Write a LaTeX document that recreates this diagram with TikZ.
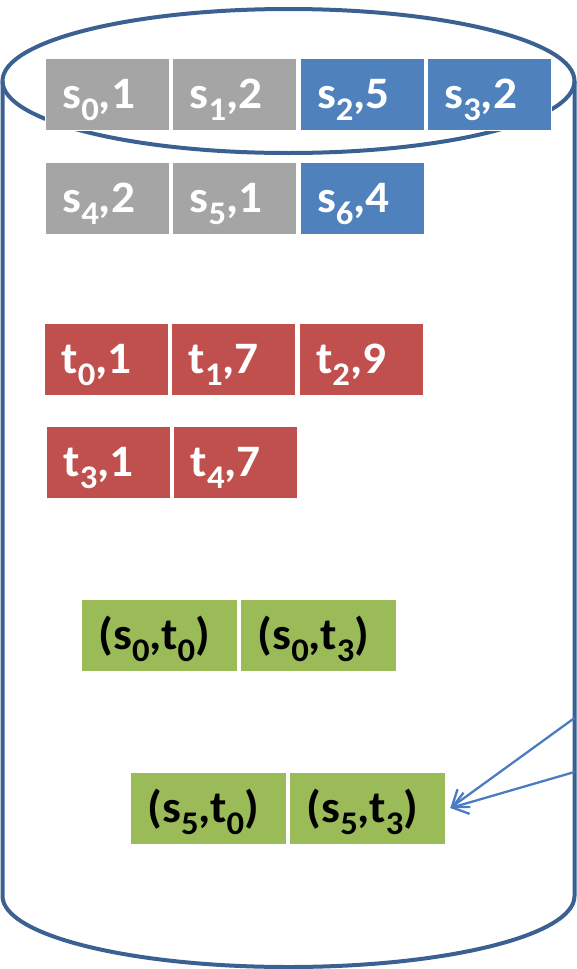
\documentclass[tikz,border=0pt]{standalone}
\usepackage{fontspec}
\setmainfont{Carlito}[BoldFont={Carlito Bold},FakeStretch=1.05]
\usepackage{tikz}
\usepackage{xcolor}
\definecolor{db_gray}{HTML}{A5A5A5}
\definecolor{db_blue}{HTML}{4F81BD}
\definecolor{db_red}{HTML}{C0504D}
\definecolor{db_green}{HTML}{9BBB59}
\definecolor{db_edge}{HTML}{3B6192}
\definecolor{db_arrow}{HTML}{4A7CC1}
\usetikzlibrary{positioning,arrows.meta}
\newcommand{\lowix}[1]{\raisebox{-12pt}{\fontsize{33}{33}\selectfont #1}}
\tikzset{CELL/.style={rectangle,draw=white,line width=1pt,inner xsep=17pt,inner ysep=0pt,text height=50pt,text depth=22pt,align=left,anchor=west,font=\bfseries\fontsize{45}{50}\selectfont}}
\tikzset{SGRAY/.style={CELL,fill=db_gray,text=white,text width=90pt}}
\tikzset{SBLUE/.style={CELL,fill=db_blue,text=white,text width=90pt}}
\tikzset{TRED/.style={CELL,fill=db_red,text=white,text width=90pt}}
\tikzset{PAIR/.style={CELL,fill=db_green,text=black,text width=122pt}}
\tikzset{CYLINDER/.style={draw=db_edge,line width=4pt}}
\tikzset{ARROW/.style={draw=db_arrow,line width=2.3pt,-{Straight Barb[length=15pt,width=22pt]}}}

\begin{document}
\begin{tikzpicture}[x=1pt,y=-1pt]
\useasboundingbox (0,0) rectangle (576,969);

\draw[CYLINDER] (2.5,81) -- (2.5,896) arc[start angle=180,end angle=360,x radius=286pt,y radius=71pt] -- (574.5,81);
\draw[CYLINDER] (288.5,81) ellipse[x radius=286pt,y radius=72pt];

\node[SGRAY] (n_s0) at (45,94.5) {s\lowix{0},1};
\node[SGRAY, right=2.3pt of n_s0] (n_s1) {s\lowix{1},2};
\node[SBLUE, right=2.3pt of n_s1] (n_s2) {s\lowix{2},5};
\node[SBLUE, right=2.3pt of n_s2] (n_s3) {s\lowix{3},2};

\node[SGRAY] (n_s4) at (45,198.5) {s\lowix{4},2};
\node[SGRAY, right=2.3pt of n_s4] (n_s5) {s\lowix{5},1};
\node[SBLUE, right=2.3pt of n_s5] (n_s6) {s\lowix{6},4};

\node[TRED] (n_t0) at (44,359) {t\lowix{0},1};
\node[TRED, right=2.3pt of n_t0] (n_t1) {t\lowix{1},7};
\node[TRED, right=2.3pt of n_t1] (n_t2) {t\lowix{2},9};

\node[TRED] (n_t3) at (46,462) {t\lowix{3},1};
\node[TRED, right=2.3pt of n_t3] (n_t4) {t\lowix{4},7};

\node[PAIR] (n_s0t0) at (81,635) {(s\lowix{0},t\lowix{0})};
\node[PAIR, right=2.3pt of n_s0t0] (n_s0t3) {(s\lowix{0},t\lowix{3})};

\node[PAIR] (n_s5t0) at (130,808) {(s\lowix{5},t\lowix{0})};
\node[PAIR, right=2.3pt of n_s5t0] (n_s5t3) {(s\lowix{5},t\lowix{3})};

\coordinate (c_side_upper) at (574.5,718);
\coordinate (c_side_lower) at (574.5,772);
\draw[ARROW] (c_side_upper) -- ([xshift=4pt]n_s5t3.east);
\draw[ARROW] (c_side_lower) -- ([xshift=4pt]n_s5t3.east);

\end{tikzpicture}
\end{document}
